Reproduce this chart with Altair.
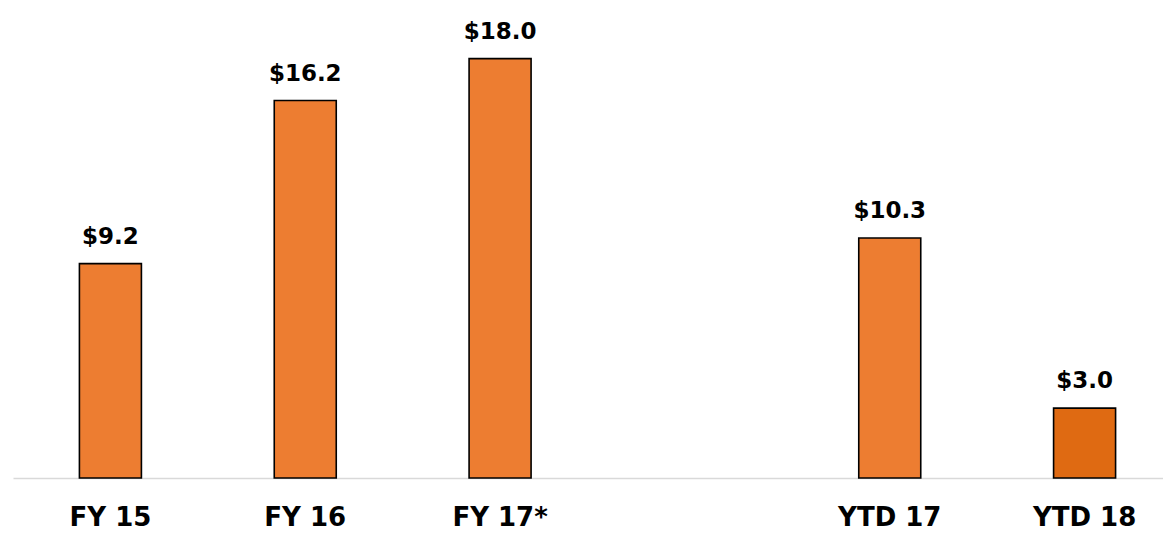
import altair as alt
import pandas as pd

categories = ["FY 15", "FY 16", "FY 17*", " ", "YTD 17", "YTD 18"]
bar_categories = ["FY 15", "FY 16", "FY 17*", "YTD 17", "YTD 18"]
values = [9.2, 16.2, 18.0, 10.3, 3.0]
labels = ["$9.2", "$16.2", "$18.0", "$10.3", "$3.0"]
groups = ["normal", "normal", "normal", "normal", "highlight"]

df = pd.DataFrame({"cat": bar_categories, "value": values, "label": labels, "group": groups})

x = alt.X(
    "cat:N",
    sort=categories,
    scale=alt.Scale(domain=categories, paddingInner=0, paddingOuter=0, range=[0, 1169]),
    axis=alt.Axis(
        title=None,
        ticks=False,
        tickSize=0,
        labelAngle=0,
        labelFont="DejaVu Sans",
        labelFontWeight="bold",
        labelFontSize=26,
        labelColor="#000000",
        labelBaseline="alphabetic",
        labelPadding=47,
        domainColor="#D9D9D9",
        domainWidth=1.5,
        grid=False,
    ),
)
y = alt.Y("value:Q", scale=alt.Scale(domain=[0, 20], nice=False), axis=None)

bars = alt.Chart(df).mark_bar(size=62, stroke="#000000", strokeWidth=1.6).encode(
    x=x,
    y=y,
    color=alt.Color(
        "group:N",
        scale=alt.Scale(domain=["normal", "highlight"], range=["#ED7D31", "#DF6A12"]),
        legend=None,
    ),
)

text = alt.Chart(df).mark_text(
    dy=-20,
    baseline="alphabetic",
    font="DejaVu Sans",
    fontWeight="bold",
    fontSize=23,
    color="#000000",
).encode(x=x, y=y, text="label:N")

chart = (
    alt.layer(bars, text)
    .properties(
        width=1150,
        height=466,
        autosize=alt.AutoSizeParams(type="none"),
        padding={"left": 5, "top": 4, "right": 0, "bottom": 55},
    )
    .configure_view(stroke=None)
)

chart.save("out.html", embed_options={"renderer": "svg", "actions": False})
